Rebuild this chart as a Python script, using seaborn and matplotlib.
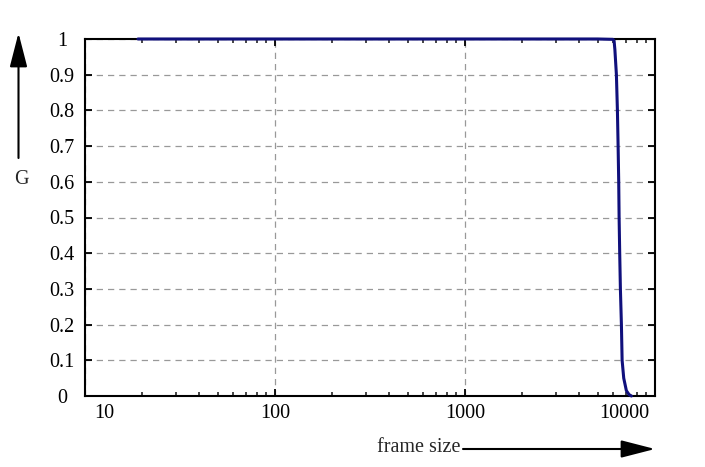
import matplotlib
matplotlib.use("Agg")
import matplotlib.pyplot as plt
import matplotlib.transforms as mtransforms
from matplotlib.ticker import LogLocator, FixedLocator, NullFormatter
import numpy as np
import pandas as pd
import seaborn as sns

# ---- data ----
frame_size = [19, 50, 200, 700, 2000, 5000, 6000, 6091, 6150, 6264, 6341, 6395, 6442,
              6473, 6520, 6575, 6656, 6713, 6846, 7068, 7300, 7516]
G_values = [1.0, 1.0, 1.0, 1.0, 1.0, 1.0, 0.999, 0.995, 0.97, 0.9, 0.8, 0.7, 0.6,
            0.5, 0.4, 0.3, 0.2, 0.1, 0.05, 0.015, 0.004, 0.0]
x_ticks = [10, 100, 1000, 10000]
x_tick_labels = ["10", "100", "1000", "10000"]
y_ticks = [0, 0.1, 0.2, 0.3, 0.4, 0.5, 0.6, 0.7, 0.8, 0.9, 1.0]
y_tick_labels = ["0", "0.1", "0.2", "0.3", "0.4", "0.5", "0.6", "0.7", "0.8", "0.9", "1"]

df = pd.DataFrame({"frame size": frame_size, "G": G_values})

sns.set_theme(style="ticks")
plt.rcParams["font.family"] = ["Liberation Serif", "DejaVu Serif"]

W, H = 705, 467
fig = plt.figure(figsize=(W / 100, H / 100), dpi=100)
ax = fig.add_axes([85 / W, 1 - 396 / H, (655 - 85) / W, (396 - 39) / H])

sns.lineplot(data=df, x="frame size", y="G", ax=ax, color="#10107c", linewidth=2.2,
             estimator=None, sort=False, zorder=5)
for ln in ax.get_lines():
    ln.set_clip_on(False)

ax.set_xscale("log")
ax.set_xlim(10, 10000)
ax.set_ylim(0, 1)
ax.set_xlabel("")
ax.set_ylabel("")

ax.xaxis.set_major_locator(FixedLocator(x_ticks))
ax.set_xticklabels(x_tick_labels)
ax.xaxis.set_minor_locator(LogLocator(base=10, subs=np.arange(2, 10), numticks=20))
ax.xaxis.set_minor_formatter(NullFormatter())
ax.set_yticks(y_ticks)
ax.set_yticklabels(y_tick_labels)

for sp in ax.spines.values():
    sp.set_linewidth(1.5)
    sp.set_color("black")
    sp.set_visible(True)

ax.tick_params(which="major", direction="in", length=5, width=1.3, top=True, right=True,
               labelsize=14.5, colors="black")
ax.tick_params(which="minor", direction="in", length=3, width=1.2, top=True, right=True)
ax.tick_params(axis="x", which="major", pad=6)
ax.tick_params(axis="y", which="major", pad=16.5)
for lab in ax.get_yticklabels():
    lab.set_horizontalalignment("center")

# shift the edge x labels inward
xl = ax.get_xticklabels()
xl[0].set_transform(xl[0].get_transform() + mtransforms.ScaledTranslation(19 / 100, 0, fig.dpi_scale_trans))
xl[-1].set_transform(xl[-1].get_transform() + mtransforms.ScaledTranslation(-31 / 100, 0, fig.dpi_scale_trans))

ax.grid(True, which="major", linestyle=(0, (5, 4)), color="#999999", linewidth=0.9)

# axis labels with arrows (figure pixel coords)
def fp(x, y):
    return (x / W, 1 - y / H)

ax.annotate("", xy=fp(18.5, 33), xytext=fp(18.5, 158), xycoords="figure fraction",
            textcoords="figure fraction",
            arrowprops=dict(arrowstyle="-|>,head_length=1.05,head_width=0.27",
                            mutation_scale=20, color="black", lw=1.5, shrinkA=0, shrinkB=0))
fig.text(*fp(21, 179), "G", ha="center", va="center", fontsize=14.5)

ax.annotate("", xy=fp(655, 449), xytext=fp(463, 449), xycoords="figure fraction",
            textcoords="figure fraction",
            arrowprops=dict(arrowstyle="-|>,head_length=1.05,head_width=0.27",
                            mutation_scale=20, color="black", lw=1.5, shrinkA=0, shrinkB=0))
fig.text(*fp(461, 448), "frame size", ha="right", va="center", fontsize=14.5)

fig.savefig("out.png", dpi=100)
